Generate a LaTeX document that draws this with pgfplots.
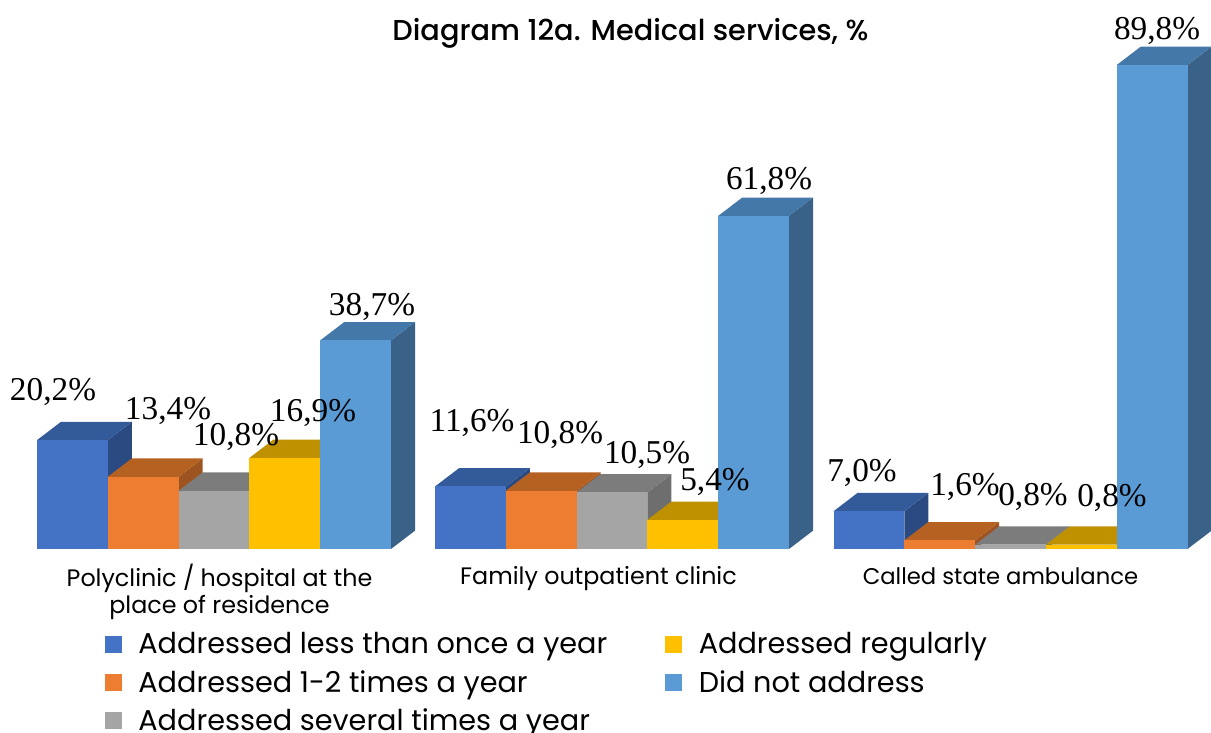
\documentclass[border=0pt]{standalone}
\usepackage{pgfplots}
\pgfplotsset{compat=1.18}
\usepackage{fontspec}
\setmainfont{Poppins}
\newfontfamily\titlefont{Poppins Medium}
\newfontfamily\serifnum{Liberation Serif}
\definecolor{blF}{HTML}{4472C4}\definecolor{blT}{HTML}{335A99}\definecolor{blS}{HTML}{2C4A82}
\definecolor{orF}{HTML}{ED7D31}\definecolor{orT}{HTML}{B56122}\definecolor{orS}{HTML}{9E5420}
\definecolor{grF}{HTML}{A5A5A5}\definecolor{grT}{HTML}{7C7C7C}\definecolor{grS}{HTML}{6E6E6E}
\definecolor{goF}{HTML}{FFC000}\definecolor{goT}{HTML}{BF9000}\definecolor{goS}{HTML}{A67C00}
\definecolor{lbF}{HTML}{5B9BD5}\definecolor{lbT}{HTML}{4478A8}\definecolor{lbS}{HTML}{3A6288}
\newcommand{\threeD}[3]{%
  \pgfmathsetmacro{\xa}{#1+70.8}\pgfmathsetmacro{\xc}{#1+35.4}%
  \pgfmathsetmacro{\xd}{#1+24}\pgfmathsetmacro{\xe}{#1+94.8}\pgfmathsetmacro{\yb}{#2+3.4}%
  \addplot[fill=#3S,draw=none,forget plot] coordinates {(\xa,0)(\xe,3.4)(\xe,\yb)(\xa,#2)} --cycle;
  \addplot[fill=#3T,draw=none,forget plot] coordinates {(#1,#2)(\xd,\yb)(\xe,\yb)(\xa,#2)} --cycle;
  \addplot[ybar,bar width=70.8,bar shift=0pt,fill=#3F,draw=none,forget plot] coordinates {(\xc,#2)};
}
\newcommand{\lab}[3]{\node[font=\fontsize{33.3bp}{36bp}\serifnum,inner sep=0pt] at (axis cs:#2,{(547-#3)/5.39}) {#1};}
\pgfplotsset{sq/.style={legend image code/.code={\fill[##1] (0bp,-8bp) rectangle (16bp,8bp);\path (33bp,0);}}}
\begin{document}
\begin{tikzpicture}
\useasboundingbox (0,0) rectangle (1211bp,733bp);
\begin{axis}[
  at={(0,184bp)},anchor=south west,
  scale only axis,width=1211bp,height=549bp,
  xmin=0,xmax=1211,ymin=0,ymax=101.86,clip=false,
  axis y line=none,axis x line*=bottom,axis line style={draw=none},
  xtick={219.5,598.5,1000.5},
  xticklabels={{\rule{0pt}{18bp}Polyclinic / hospital at the\\place of residence},{\rule{0pt}{20bp}Family outpatient clinic},{\rule{0pt}{20bp}\fontsize{22.7bp}{27bp}\selectfont Called state ambulance}},
  major tick length=0pt,
  xticklabel style={align=center,font=\fontsize{23.8bp}{27bp}\selectfont,inner sep=0pt,yshift=-15bp},
  title={Diagram 12a. Medical services, \%},
  title style={at={(axis cs:630.5,94.5)},anchor=center,font=\fontsize{28.8bp}{30bp}\titlefont,inner sep=0pt},
  legend columns=2,
  legend style={at={(axis cs:105,-15.5)},anchor=north west,draw=none,fill=none,inner sep=0pt,outer sep=0pt,
     font=\fontsize{28.7bp}{30bp}\selectfont,row sep=15bp,column sep=0pt,
     nodes={inner sep=0pt,anchor=west}},
  legend cell align=left,
]
\threeD{37}{20.2}{bl}\threeD{107.8}{13.4}{or}\threeD{178.6}{10.8}{gr}\threeD{249.4}{16.9}{go}\threeD{320.2}{38.7}{lb}
\threeD{435}{11.6}{bl}\threeD{505.8}{10.8}{or}\threeD{576.6}{10.5}{gr}\threeD{647.4}{5.4}{go}\threeD{718.2}{61.8}{lb}
\threeD{833.5}{7.0}{bl}\threeD{904.3}{1.6}{or}\threeD{975.1}{0.8}{gr}\threeD{1045.9}{0.8}{go}\threeD{1116.7}{89.8}{lb}
\lab{20,2\%}{53}{390}\lab{13,4\%}{168}{409}\lab{10,8\%}{236}{435}\lab{16,9\%}{313}{411}\lab{38,7\%}{372}{305}
\lab{11,6\%}{472}{421}\lab{10,8\%}{560}{433}\lab{10,5\%}{647}{453}\lab{5,4\%}{715}{480}\lab{61,8\%}{769}{179}
\lab{7,0\%}{862}{471}\lab{1,6\%}{965}{485}\lab{0,8\%}{1033}{495}\lab{0,8\%}{1112}{496}\lab{89,8\%}{1157}{29}
\addlegendimage{sq,blF}\addlegendentry{\makebox[527bp][l]{Addressed less than once a year}}
\addlegendimage{sq,goF}\addlegendentry{Addressed regularly}
\addlegendimage{sq,orF}\addlegendentry{\makebox[527bp][l]{Addressed 1-2 times a year}}
\addlegendimage{sq,lbF}\addlegendentry{Did not address}
\addlegendimage{sq,grF}\addlegendentry{\makebox[527bp][l]{Addressed several times a year}}
\end{axis}
\end{tikzpicture}
\end{document}
